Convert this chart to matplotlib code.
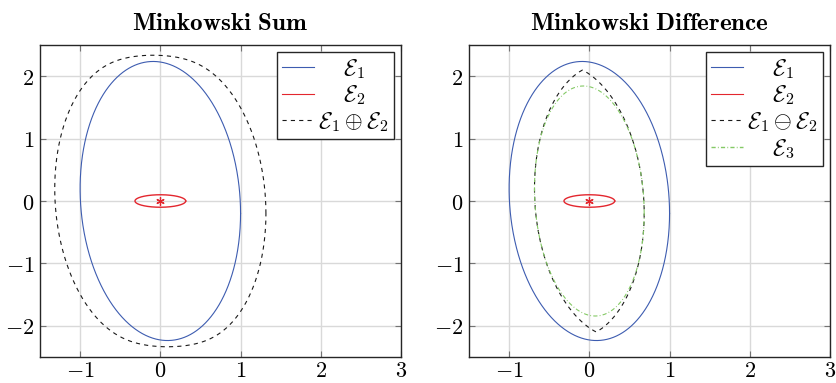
import numpy as np
import matplotlib.pyplot as plt
from matplotlib.lines import Line2D
from matplotlib.ticker import FuncFormatter

plt.rcParams['mathtext.fontset'] = 'cm'
plt.rcParams['font.family'] = 'serif'
plt.rcParams['lines.scale_dashes'] = False

# ellipsoids E(q, Q) = {x : (x-q)' Q^-1 (x-q) <= 1}
q1 = np.array([0.0, 0.0])
Q1 = np.array([[1.0, -0.2], [-0.2, 5.0]])
q2 = np.array([0.0, 0.0])
Q2 = np.array([[0.1, 0.0], [0.0, 0.01]])
l_touch = np.array([1.0, 0.0])	# direction where E3 touches E1 - E2

xticks = [-1, 0, 1, 2, 3]
yticks = [-2, -1, 0, 1, 2]

c_blue = '#3d5cb0'
c_red = '#e3262e'
c_green = '#84c965'

phi = np.linspace(0, 2 * np.pi, 1441)
L = np.vstack([np.cos(phi), np.sin(phi)])


def support_pts(q, Q, L):
	QL = Q @ L
	return q[:, None] + QL / np.sqrt(np.sum(L * QL, axis=0))


def support_fn(q, Q, L):
	return q @ L + np.sqrt(np.sum(L * (Q @ L), axis=0))


E1 = support_pts(q1, Q1, L)
E2 = support_pts(q2, Q2, L)
Esum = E1 + E2

# geometric difference: intersection of half-planes l.x <= h1(l) - h2(l)
c = q1 - q2
h = support_fn(q1, Q1, L) - support_fn(q2, Q2, L) - c @ L
dots = L.T @ L
with np.errstate(divide='ignore', invalid='ignore'):
	ratios = np.where(dots > 1e-9, h[None, :] / dots, np.inf)
r = ratios.min(axis=1)
Ediff = c[:, None] + r * L

# internal ellipsoidal approximation of the difference
p = np.sqrt(l_touch @ Q1 @ l_touch) / np.sqrt(l_touch @ Q2 @ l_touch)
Q3 = (1 - 1 / p) * Q1 + (1 - p) * Q2
E3 = support_pts(c, Q3, L)

fig = plt.figure(figsize=(8.37, 3.83), dpi=100)
ax1 = fig.add_axes([40 / 837, 26 / 383, 361 / 837, 312 / 383])
ax2 = fig.add_axes([469 / 837, 26 / 383, 361 / 837, 312 / 383])

fmt = FuncFormatter(lambda v, _: '$%g$' % v)

for ax in (ax1, ax2):
	ax.set_xlim(-1.5, 3)
	ax.set_ylim(-2.5, 2.5)
	ax.set_xticks(xticks)
	ax.set_yticks(yticks)
	ax.xaxis.set_major_formatter(fmt)
	ax.yaxis.set_major_formatter(fmt)
	ax.tick_params(direction='in', top=True, right=True, length=4, width=0.8, color='0.45', labelsize=16)
	ax.tick_params(axis='x', pad=2.5)
	ax.tick_params(axis='y', pad=4)
	ax.grid(color='0.85', lw=1)
	ax.set_axisbelow(True)
	for s in ax.spines.values():
		s.set_linewidth(1.0)
		s.set_color('0.15')
	ax.plot(E1[0], E1[1], color=c_blue, lw=0.8)
	ax.plot(E2[0], E2[1], color=c_red, lw=1.0)
	ax.plot(q2[0], q2[1], marker=(6, 2, 0), ms=6, mew=0.9, color=c_red, ls='none')

ax1.plot(Esum[0], Esum[1], color='0.1', lw=0.8, dashes=(3, 3))
ax2.plot(Ediff[0], Ediff[1], color='0.1', lw=0.8, dashes=(3, 3))
ax2.plot(E3[0], E3[1], color=c_green, lw=0.8, dashes=(3, 1.6, 0.6, 1.6))

ax1.set_title(r'$\mathbf{Minkowski\ Sum}$', fontsize=18, pad=11)
ax2.set_title(r'$\mathbf{Minkowski\ Difference}$', fontsize=18, pad=11)

h_blue = Line2D([], [], color=c_blue, lw=0.8)
h_red = Line2D([], [], color=c_red, lw=0.8)
h_black = Line2D([], [], color='0.1', lw=0.8, dashes=(3, 3))
h_green = Line2D([], [], color=c_green, lw=1.0, dashes=(3, 1.6, 0.6, 1.6))

leg_kw = dict(loc='upper right', fontsize=16.5, frameon=True, fancybox=False, framealpha=1,
			  edgecolor='0.15', handlelength=1.4, handletextpad=0.2, labelspacing=0.12,
			  borderpad=0.22, borderaxespad=0.3)
leg1 = ax1.legend([h_blue, h_red, h_black],
				  [r'$\mathcal{E}_1$', r'$\mathcal{E}_2$', r'$\mathcal{E}_1 \oplus \mathcal{E}_2$'], **leg_kw)
leg2 = ax2.legend([h_blue, h_red, h_black, h_green],
				  [r'$\mathcal{E}_1$', r'$\mathcal{E}_2$', r'$\mathcal{E}_1 \ominus \mathcal{E}_2$', r'$\mathcal{E}_3$'], **leg_kw)
for leg in (leg1, leg2):
	leg.get_frame().set_linewidth(1.0)

# centre the legend labels in their column
fig.canvas.draw()
for leg in (leg1, leg2):
	texts = leg.get_texts()
	widths = [t.get_window_extent().width for t in texts]
	wmax = max(widths)
	for t, w in zip(texts, widths):
		t.set_x((wmax - w) / 2)

plt.savefig('out.png', dpi=100)
